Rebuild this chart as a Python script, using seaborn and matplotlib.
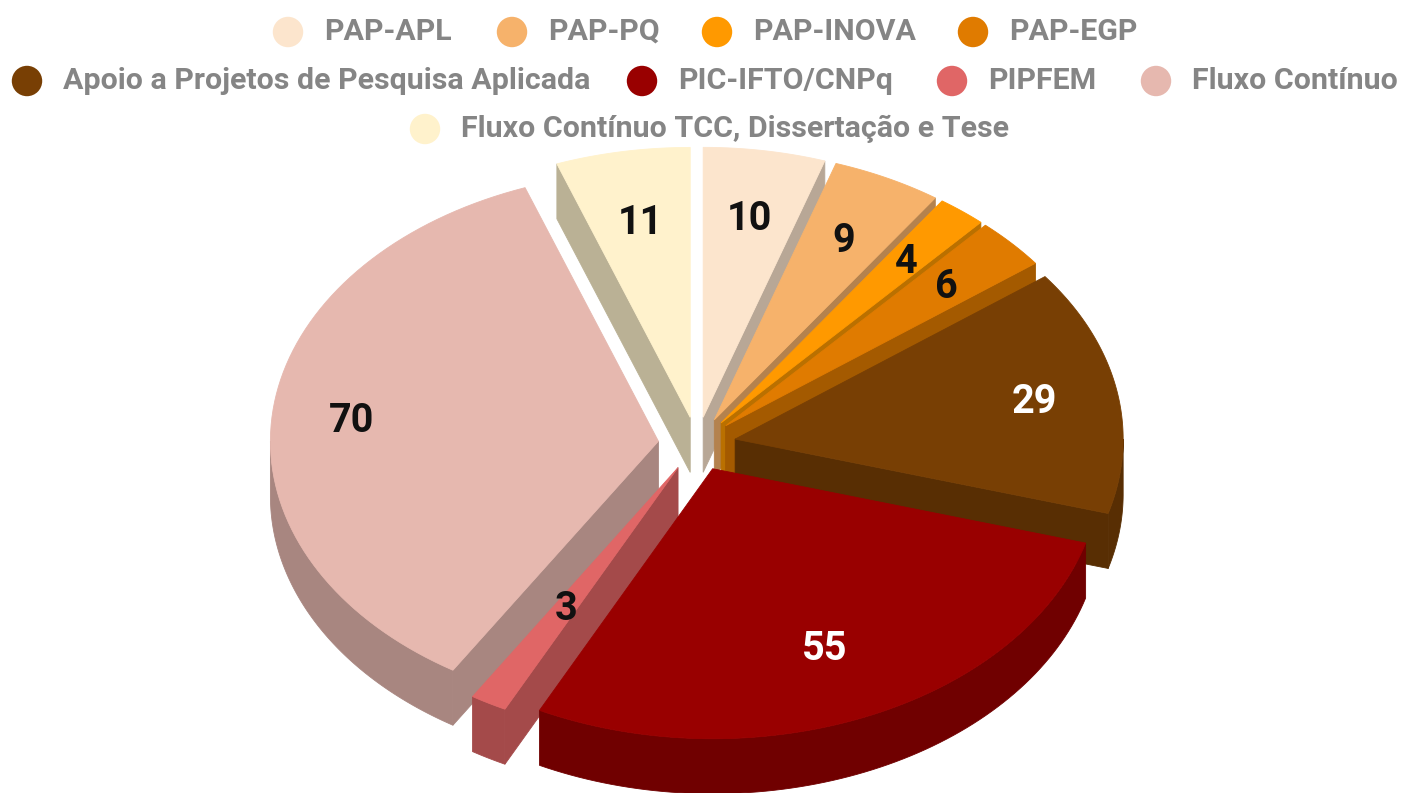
import numpy as np
import matplotlib
matplotlib.use('Agg')
import matplotlib.pyplot as plt
from matplotlib.patches import Polygon
import seaborn as sns

categories = ["PAP-APL", "PAP-PQ", "PAP-INOVA", "PAP-EGP",
              "Apoio a Projetos de Pesquisa Aplicada", "PIC-IFTO/CNPq", "PIPFEM",
              "Fluxo Contínuo", "Fluxo Contínuo TCC, Dissertação e Tese"]
values = [10, 9, 4, 6, 29, 55, 3, 70, 11]
colors = ["#fce5cd", "#f6b26b", "#ff9900", "#e07b00", "#783f04",
          "#990000", "#e06666", "#e6b8af", "#fff2cc"]
label_colors = ["#111111"] * 4 + ["#ffffff", "#ffffff"] + ["#111111"] * 3
label_radius = [0.75, 0.75, 0.77, 0.77, 0.785, 0.72, 0.59, 0.795, 0.74]

# legend layout in pixels: marker x, row y
legend_x = [288, 512, 717, 973, 27, 642, 952, 1156, 425]
legend_y = [32, 32, 32, 32, 81, 81, 81, 81, 129]

W, H = 1405, 793
CX, CY = 697, 444
RX, RY = 388, 270
DEPTH = 55
EXPLODE = 0.1
SHADE = 0.73

sns.set_theme(style="white")
plt.rcParams['font.family'] = ['Roboto', 'DejaVu Sans']

fig = plt.figure(figsize=(W / 100, H / 100), dpi=100)
ax = fig.add_axes([0, 0, 1, 1])
ax.set_xlim(0, W)
ax.set_ylim(H, 0)
ax.axis('off')


def dark(c):
    return tuple(v * SHADE for v in matplotlib.colors.to_rgb(c))


def rim(apex, a, b, n=80):
    t = np.radians(np.linspace(a, b, n))
    return np.column_stack([apex[0] + RX * np.sin(t), apex[1] - RY * np.cos(t)])


def face(points, color, z):
    ax.add_patch(Polygon(points, closed=True, facecolor=color, edgecolor=color, lw=0.6, zorder=z))


edges = np.concatenate([[0], np.cumsum(values)]) / sum(values) * 360
mids = (edges[:-1] + edges[1:]) / 2
down = np.array([0, DEPTH])

# back slices first, so the front ones cover them
order = sorted(range(len(values)), key=lambda i: min(mids[i], 360 - mids[i]))
for z, i in enumerate(order):
    a, b = edges[i], edges[i + 1]
    m = np.radians(mids[i])
    apex = np.array([CX + EXPLODE * RX * np.sin(m), CY - EXPLODE * RY * np.cos(m)])
    col = dark(colors[i])
    arc = rim(apex, a, b)

    # cut walls, only the ones that face the viewer
    if np.sin(np.radians(a)) < 0:
        p = arc[0]
        face([apex, p, p + down, apex + down], col, z)
    if np.sin(np.radians(b)) > 0:
        p = arc[-1]
        face([apex, p, p + down, apex + down], col, z)

    # outer wall on the front half
    lo, hi = max(a, 90), min(b, 270)
    if lo < hi:
        r = rim(apex, lo, hi)
        face(np.vstack([r, (r + down)[::-1]]), col, z)

    face(np.vstack([apex, arc]), colors[i], z + 0.5)

    tx = apex[0] + label_radius[i] * RX * np.sin(m)
    ty = apex[1] - label_radius[i] * RY * np.cos(m) + 2
    ax.text(tx, ty, str(values[i]), color=label_colors[i], fontsize=28.5, fontweight='bold',
            ha='center', va='center', zorder=50)

# legend
sns.scatterplot(x=legend_x, y=legend_y, hue=categories, hue_order=categories, palette=colors,
                s=480, linewidth=0, legend=False, ax=ax, zorder=60)
for name, x, y in zip(categories, legend_x, legend_y):
    ax.text(x + 36, y, name, color="#858585", fontsize=21.9, fontweight='bold',
            ha='left', va='center', zorder=60)
ax.set_xlim(0, W)
ax.set_ylim(H, 0)

fig.savefig("out.png", dpi=100, facecolor="white")
